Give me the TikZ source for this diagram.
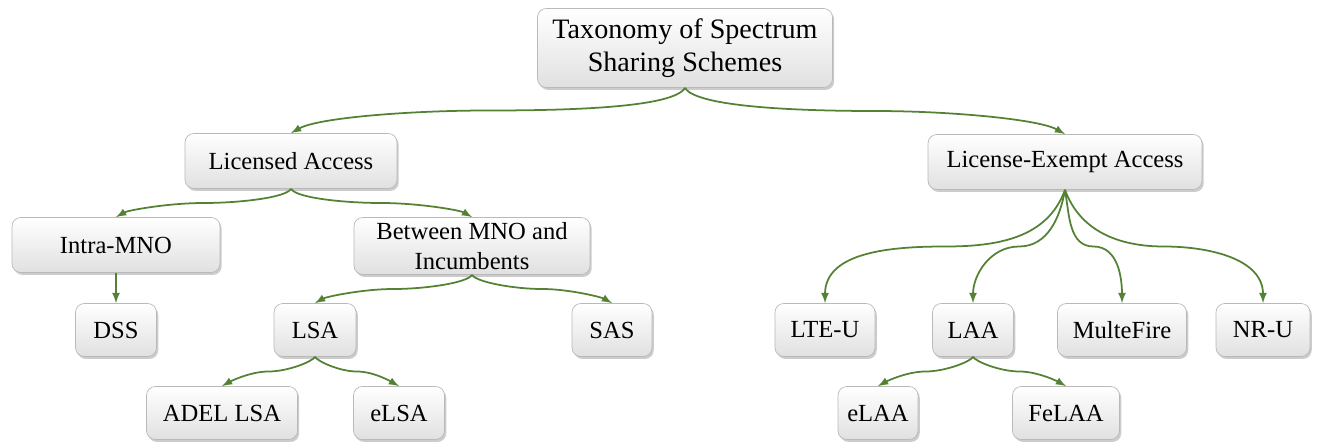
\documentclass[tikz,border=0pt]{standalone}
\usepackage{fontspec}
\setmainfont{Liberation Serif}
\usetikzlibrary{shadows,calc}
\definecolor{arrgreen}{RGB}{84,130,53}
\begin{document}
\begin{tikzpicture}[x=0.02cm, y=-0.02cm, >=latex,
  box/.style={rectangle, rounded corners=5pt, draw=gray!55, top color=white, bottom color=gray!24,
    drop shadow={shadow xshift=1pt, shadow yshift=-1.4pt, opacity=0.4},
    minimum height=1.06cm, inner sep=2pt, align=center, font=\fontsize{14}{17}\selectfont},
  arr/.style={->, line width=1pt, arrgreen},
  tipL/.style={out=-120, in=0, out looseness=0.3, in looseness=1},
  tipR/.style={out=-60, in=180, out looseness=0.3, in looseness=1},
  endL/.style={out=180, in=30, out looseness=1, in looseness=0.4},
  endR/.style={out=0, in=150, out looseness=1, in looseness=0.4}]
\useasboundingbox (0,0) rectangle (1318,443);

% level 0
\node[box, minimum width=5.9cm, minimum height=1.58cm, font=\fontsize{16}{19}\selectfont] (root) at (685,48) {Taxonomy of Spectrum\\Sharing Schemes};

% level 1
\node[box, minimum width=4.24cm, minimum height=1.1cm] (lic) at (291,161) {Licensed Access};
\node[box, minimum width=5.48cm, minimum height=1.1cm] (lex) at (1065,162) {License-Exempt Access};

% level 2
\node[box, minimum width=4.16cm, minimum height=1.1cm] (intra) at (116,245) {Intra-MNO};
\node[box, minimum width=4.72cm, minimum height=1.14cm] (betw) at (472,246) {Between MNO and\\Incumbents};

% level 3
\node[box, minimum width=1.62cm] (dss) at (116,330) {DSS};
\node[box, minimum width=1.64cm] (lsa) at (315,330) {LSA};
\node[box, minimum width=1.6cm] (sas) at (612,330) {SAS};
\node[box, minimum width=2.0cm] (lteu) at (825,330) {LTE-U};
\node[box, minimum width=1.62cm] (laa) at (973,330) {LAA};
\node[box, minimum width=2.58cm] (mfire) at (1122,330) {MulteFire};
\node[box, minimum width=1.88cm] (nru) at (1263,330) {NR-U};

% level 4
\node[box, minimum width=3.02cm] (adel) at (222,413) {ADEL LSA};
\node[box, minimum width=1.82cm] (elsa) at (399,413) {eLSA};
\node[box, minimum width=1.6cm] (elaa) at (878,413) {eLAA};
\node[box, minimum width=2.14cm] (felaa) at (1066,413) {FeLAA};

% connectors: parent tip -> halfway point -> child
\draw[arr] (root.south) to[tipL] ($(root.south)!.5!(lic.north)$) to[endL] (lic.north);
\draw[arr] (root.south) to[tipR] ($(root.south)!.5!(lex.north)$) to[endR] (lex.north);

\draw[arr] (lic.south) to[tipL] ($(lic.south)!.5!(intra.north)$) to[endL] (intra.north);
\draw[arr] (lic.south) to[tipR] ($(lic.south)!.5!(betw.north)$) to[endR] (betw.north);
\draw[arr] (intra.south) -- (dss.north);

\draw[arr] (betw.south) to[tipL] ($(betw.south)!.5!(lsa.north)$) to[endL] (lsa.north);
\draw[arr] (betw.south) to[tipR] ($(betw.south)!.5!(sas.north)$) to[endR] (sas.north);
\draw[arr] (lsa.south) to[tipL] ($(lsa.south)!.5!(adel.north)$) to[endL] (adel.north);
\draw[arr] (lsa.south) to[tipR] ($(lsa.south)!.5!(elsa.north)$) to[endR] (elsa.north);

\draw[arr] (lex.south) to[out=-110, in=0] ($(lex.south)!.5!(lteu.north)$) to[out=180, in=90] (lteu.north);
\draw[arr] (lex.south) to[out=-100, in=0] ($(lex.south)!.5!(laa.north)$) to[out=180, in=90] (laa.north);
\draw[arr] (lex.south) to[out=-80, in=180] ($(lex.south)!.5!(mfire.north)$) to[out=0, in=90] (mfire.north);
\draw[arr] (lex.south) to[out=-70, in=180] ($(lex.south)!.5!(nru.north)$) to[out=0, in=90] (nru.north);
\draw[arr] (laa.south) to[tipL] ($(laa.south)!.5!(elaa.north)$) to[endL] (elaa.north);
\draw[arr] (laa.south) to[tipR] ($(laa.south)!.5!(felaa.north)$) to[endR] (felaa.north);
\end{tikzpicture}
\end{document}
